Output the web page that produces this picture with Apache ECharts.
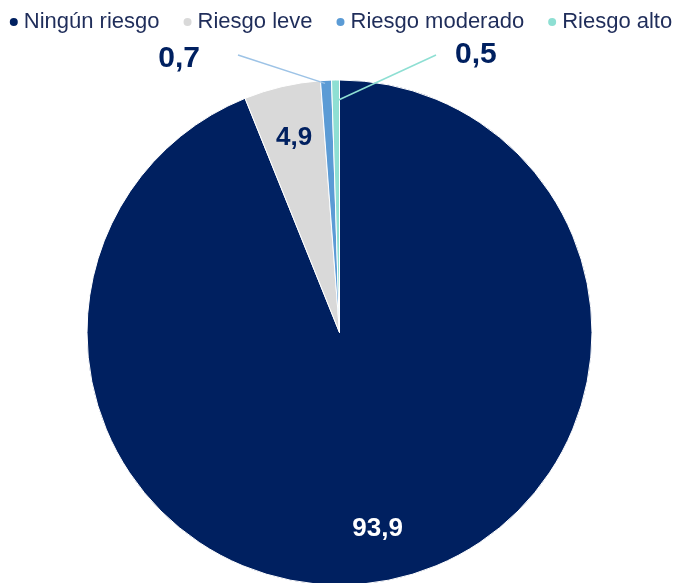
<!DOCTYPE html>
<html>
<head>
<meta charset="utf-8">
<script src="https://cdn.jsdelivr.net/npm/echarts@6/dist/echarts.min.js"></script>
<style>
  html, body { margin: 0; padding: 0; background: #fff; }
  #chart1 { width: 680px; height: 583px; }
</style>
</head>
<body>
<div id="chart1"></div>
<script>
const categorias = ['Ningún riesgo', 'Riesgo leve', 'Riesgo moderado', 'Riesgo alto'];
const valores = [93.9, 4.9, 0.7, 0.5];
const colores = ['#002060', '#D9D9D9', '#5B9BD5', '#8EDFD3'];
const coloresLinea = ['#002060', '#D9D9D9', '#9DC3E6', '#8EDFD3'];

const formatoNum = (v) => v.toFixed(1).replace('.', ',');

const initChart = () => {
  const chart1 = echarts.init(document.getElementById('chart1'));
  const fuente = 'Liberation Sans, Arial, sans-serif';

  const datos = categorias.map((nombre, i) => ({
    name: nombre,
    value: valores[i],
    itemStyle: { color: colores[i] }
  }));

  const option = {
    animation: false,
    legend: {
      top: 6,
      left: 'center',
      icon: 'circle',
      itemWidth: 10,
      itemHeight: 10,
      itemGap: 22,
      textStyle: { fontFamily: fuente, fontSize: 22, color: '#1F2D5A' },
      data: categorias
    },
    series: [
      {
        // sectores
        type: 'pie',
        z: 2,
        center: [339.5, 332.5],
        radius: [0, 252.5],
        startAngle: 90,
        clockwise: true,
        label: { show: false },
        labelLine: { show: false },
        itemStyle: { borderColor: '#fff', borderWidth: 1 },
        data: datos
      },
      {
        // capa transparente encima: etiquetas internas y externas
        type: 'pie',
        z: 5,
        center: [339.5, 332.5],
        radius: [141, 252.5],
        startAngle: 90,
        clockwise: true,
        silent: true,
        legendHoverLink: false,
        avoidLabelOverlap: false,
        data: datos.map((d, i) => ({
          name: d.name,
          value: d.value,
          itemStyle: { color: 'rgba(0,0,0,0)' },
          label: {
            show: true,
            position: i < 2 ? 'inside' : 'outside',
            formatter: (p) => formatoNum(p.value),
            fontFamily: fuente,
            fontSize: i < 2 ? 26 : 30,
            fontWeight: 'bold',
            color: i === 0 ? '#ffffff' : '#002060'
          },
          labelLine: {
            show: i >= 2,
            length: 10,
            length2: 0,
            lineStyle: { color: coloresLinea[i], width: 1.5 }
          }
        })),
        labelLayout: (params) => {
          const p0 = params.labelLinePoints ? params.labelLinePoints[0] : null;
          if (params.dataIndex === 2) {
            const fin = [238, 55];
            return {
              x: 200, y: 59, align: 'right', verticalAlign: 'middle',
              labelLinePoints: p0 ? [[p0[0] - 1, p0[1] + 3], fin, fin] : undefined
            };
          }
          if (params.dataIndex === 3) {
            const fin = [436, 55];
            return {
              x: 455, y: 55, align: 'left', verticalAlign: 'middle',
              labelLinePoints: p0 ? [[p0[0] + 3, p0[1] + 20], fin, fin] : undefined
            };
          }
        }
      }
    ]
  };

  chart1.setOption(option);
};

document.addEventListener('DOMContentLoaded', () => {
  initChart();
});
</script>
</body>
</html>
